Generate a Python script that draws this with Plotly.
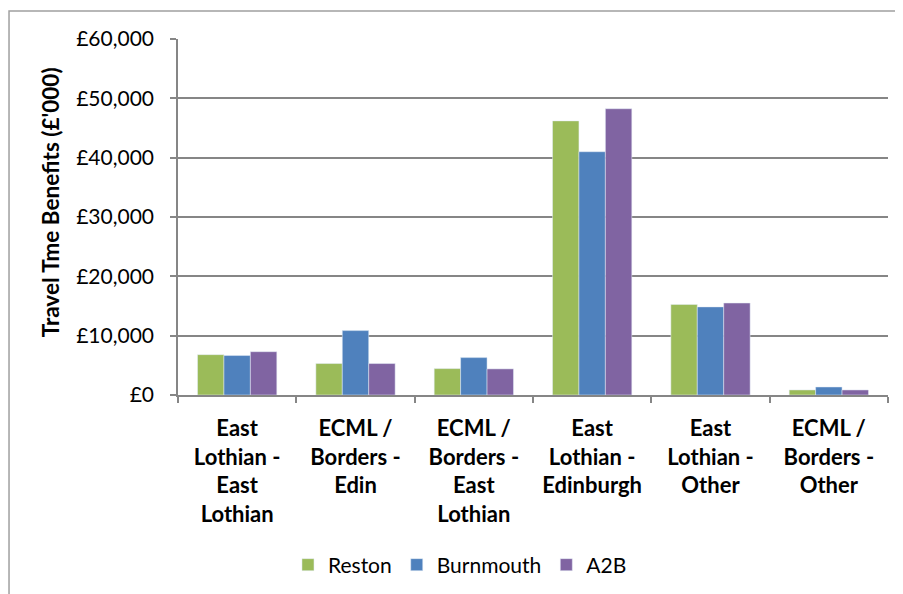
import plotly.graph_objects as go

# category labels (line breaks as in the original)
categories = [
    "East<br>Lothian -<br>East<br>Lothian",
    "ECML /<br>Borders -<br>Edin",
    "ECML /<br>Borders -<br>East<br>Lothian",
    "East<br>Lothian -<br>Edinburgh",
    "East<br>Lothian -<br>Other",
    "ECML /<br>Borders -<br>Other",
]

reston = [6800, 5300, 4450, 46200, 15250, 850]
burnmouth = [6650, 10850, 6300, 41000, 14850, 1350]
a2b = [7300, 5300, 4400, 48250, 15500, 850]

y_ticks = [0, 10000, 20000, 30000, 40000, 50000, 60000]
y_tick_labels = ["£0", "£10,000", "£20,000", "£30,000", "£40,000", "£50,000", "£60,000"]

FONT = "Lato"
GREY = "#868686"

fig = go.Figure()
fig.add_trace(go.Bar(x=categories, y=reston, name="Reston", marker_color="#9BBB59"))
fig.add_trace(go.Bar(x=categories, y=burnmouth, name="Burnmouth", marker_color="#4F81BD"))
fig.add_trace(go.Bar(x=categories, y=a2b, name="A2B", marker_color="#8064A2"))

# page has an 8px body margin, so the figure is a bit smaller than the window
fig.update_layout(
    width=895,
    height=586,
    margin=dict(l=170, r=15, t=31, b=199),
    paper_bgcolor="white",
    plot_bgcolor="white",
    barmode="group",
    bargap=0.33,
    bargroupgap=0,
    font=dict(family=FONT, size=21, color="black"),
    showlegend=True,
    legend=dict(
        orientation="h",
        x=0.505,
        xref="container",
        xanchor="center",
        y=0.0495,
        yref="container",
        yanchor="middle",
        font=dict(size=21),
        itemwidth=30,
    ),
)

fig.update_xaxes(
    showline=True,
    linecolor=GREY,
    linewidth=1.5,
    ticks="outside",
    tickson="boundaries",
    ticklen=6,
    tickcolor=GREY,
    tickwidth=1.5,
    ticklabelstandoff=13,
    tickfont=dict(size=22, weight="bold"),
    showgrid=False,
)

fig.update_yaxes(
    range=[0, 60000],
    tickvals=y_ticks,
    ticktext=y_tick_labels,
    showline=True,
    linecolor=GREY,
    linewidth=1.5,
    ticks="outside",
    ticklen=6,
    tickcolor=GREY,
    tickwidth=1.5,
    ticklabelstandoff=12,
    showgrid=True,
    gridcolor=GREY,
    gridwidth=1.5,
    zeroline=False,
    tickfont=dict(size=21),
)

# y-axis title
fig.add_annotation(
    text="Travel Tme Benefits (£'000)",
    xref="paper", yref="paper",
    x=-0.18, y=0.542,
    xanchor="center", yanchor="middle",
    textangle=-90,
    showarrow=False,
    font=dict(size=22.5, weight="bold"),
)

# chart border (only the top and left edges are inside the picture)
fig.add_shape(
    type="rect",
    xref="paper", yref="paper",
    x0=-0.238, x1=1.1, y0=-0.65, y1=1.0787,
    line=dict(color="#A0A0A0", width=1.5),
    layer="below",
)

fig.write_html("out.html")
